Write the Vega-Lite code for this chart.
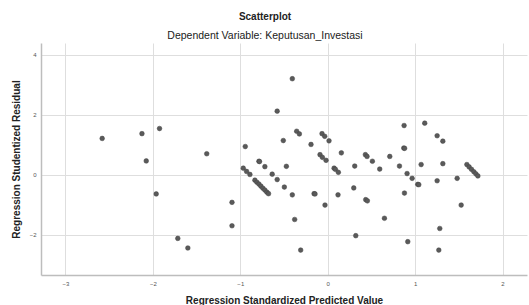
{
  "$schema": "https://vega.github.io/schema/vega-lite/v6.json",
  "autosize": {"type": "none"},
  "width": 486,
  "height": 232,
  "padding": {"left": 41, "top": 43, "right": 2, "bottom": 30},
  "background": "white",
  "title": {
    "text": "Scatterplot",
    "subtitle": "Dependent Variable: Keputusan_Investasi",
    "anchor": "middle",
    "dx": -19,
    "font": "Liberation Sans",
    "fontSize": 10,
    "fontWeight": "bold",
    "color": "#222",
    "subtitleFont": "Liberation Sans",
    "subtitleFontSize": 10.5,
    "subtitleColor": "#1a1a1a",
    "subtitlePadding": 9,
    "offset": 2
  },
  "config": {
    "view": {"stroke": null},
    "axis": {
      "grid": true,
      "gridColor": "#dedede",
      "gridWidth": 1,
      "domainColor": "#bdbdbd",
      "domainWidth": 1.5,
      "ticks": false,
      "labelFont": "Liberation Sans",
      "labelFontSize": 6,
      "labelColor": "#555",
      "titleFont": "Liberation Sans",
      "titleFontSize": 10,
      "titleFontWeight": "bold",
      "titleColor": "#222"
    }
  },
  "data": {
    "values": [
      {"x": -2.58, "y": 1.21}, {"x": -2.125, "y": 1.37}, {"x": -1.924, "y": 1.54}, {"x": -2.076, "y": 0.46},
      {"x": -1.962, "y": -0.64}, {"x": -1.384, "y": 0.70}, {"x": -1.715, "y": -2.12}, {"x": -1.60, "y": -2.44},
      {"x": -1.095, "y": -0.92}, {"x": -1.095, "y": -1.70}, {"x": -0.943, "y": 0.94}, {"x": -0.966, "y": 0.22},
      {"x": -0.928, "y": 0.11}, {"x": -0.89, "y": 0.01}, {"x": -0.787, "y": 0.45}, {"x": -0.78, "y": 0.44},
      {"x": -0.719, "y": 0.27}, {"x": -0.635, "y": 0.02}, {"x": -0.578, "y": 2.12}, {"x": -0.578, "y": -0.16},
      {"x": -0.833, "y": -0.18}, {"x": -0.81, "y": -0.25}, {"x": -0.787, "y": -0.31}, {"x": -0.764, "y": -0.38},
      {"x": -0.741, "y": -0.45}, {"x": -0.719, "y": -0.51}, {"x": -0.696, "y": -0.58}, {"x": -0.677, "y": -0.63},
      {"x": -0.405, "y": 3.20}, {"x": -0.508, "y": 1.14}, {"x": -0.473, "y": 0.28}, {"x": -0.496, "y": -0.41},
      {"x": -0.405, "y": -0.67}, {"x": -0.378, "y": -1.49}, {"x": -0.309, "y": -2.51}, {"x": -0.355, "y": 1.45},
      {"x": -0.324, "y": 1.36}, {"x": -0.191, "y": 1.01}, {"x": -0.156, "y": -0.63}, {"x": -0.145, "y": -0.64},
      {"x": -0.088, "y": 0.67}, {"x": -0.061, "y": 0.58}, {"x": -0.019, "y": 0.48}, {"x": -0.065, "y": 1.37},
      {"x": -0.034, "y": 1.28}, {"x": 0.015, "y": 1.13}, {"x": -0.031, "y": -1.01}, {"x": 0.073, "y": 0.22},
      {"x": 0.088, "y": 0.18}, {"x": 0.122, "y": 0.08}, {"x": 0.118, "y": -0.67}, {"x": 0.156, "y": 0.73},
      {"x": 0.309, "y": 0.29}, {"x": 0.298, "y": -0.44}, {"x": 0.321, "y": -2.03}, {"x": 0.431, "y": 0.67},
      {"x": 0.45, "y": 0.61}, {"x": 0.511, "y": 0.45}, {"x": 0.435, "y": -0.83}, {"x": 0.454, "y": -0.87},
      {"x": 0.595, "y": 0.19}, {"x": 0.649, "y": -1.45}, {"x": 0.71, "y": 0.61}, {"x": 0.821, "y": 0.29},
      {"x": 0.874, "y": 1.64}, {"x": 0.87, "y": 0.89}, {"x": 0.88, "y": 0.88}, {"x": 0.878, "y": -0.61},
      {"x": 0.916, "y": -2.23}, {"x": 0.908, "y": 0.04}, {"x": 0.966, "y": -0.12}, {"x": 1.03, "y": -0.32},
      {"x": 1.042, "y": -0.33}, {"x": 1.069, "y": 0.34}, {"x": 1.11, "y": 1.72}, {"x": 1.252, "y": 1.30},
      {"x": 1.317, "y": 1.12}, {"x": 1.317, "y": 0.37}, {"x": 1.252, "y": -0.20}, {"x": 1.282, "y": -1.79},
      {"x": 1.271, "y": -2.51}, {"x": 1.481, "y": -0.12}, {"x": 1.527, "y": -1.01}, {"x": 1.592, "y": 0.34},
      {"x": 1.618, "y": 0.26}, {"x": 1.645, "y": 0.18}, {"x": 1.672, "y": 0.10}, {"x": 1.695, "y": 0.03},
      {"x": 1.718, "y": -0.04}
    ]
  },
  "mark": {"type": "circle", "size": 22, "color": "#5a5a5a", "opacity": 1, "stroke": "#444", "strokeWidth": 0.5},
  "encoding": {
    "x": {
      "field": "x",
      "type": "quantitative",
      "scale": {"domain": [-3.28, 2.28], "nice": false, "zero": false},
      "axis": {"values": [-3, -2, -1, 0, 1, 2], "title": "Regression Standardized Predicted Value", "labelPadding": 5, "titlePadding": 9}
    },
    "y": {
      "field": "y",
      "type": "quantitative",
      "scale": {"domain": [-3.34, 4.39], "nice": false, "zero": false},
      "axis": {"values": [-2, 0, 2, 4], "title": "Regression Studentized Residual", "labelPadding": 5, "titlePadding": 8}
    }
  }
}
